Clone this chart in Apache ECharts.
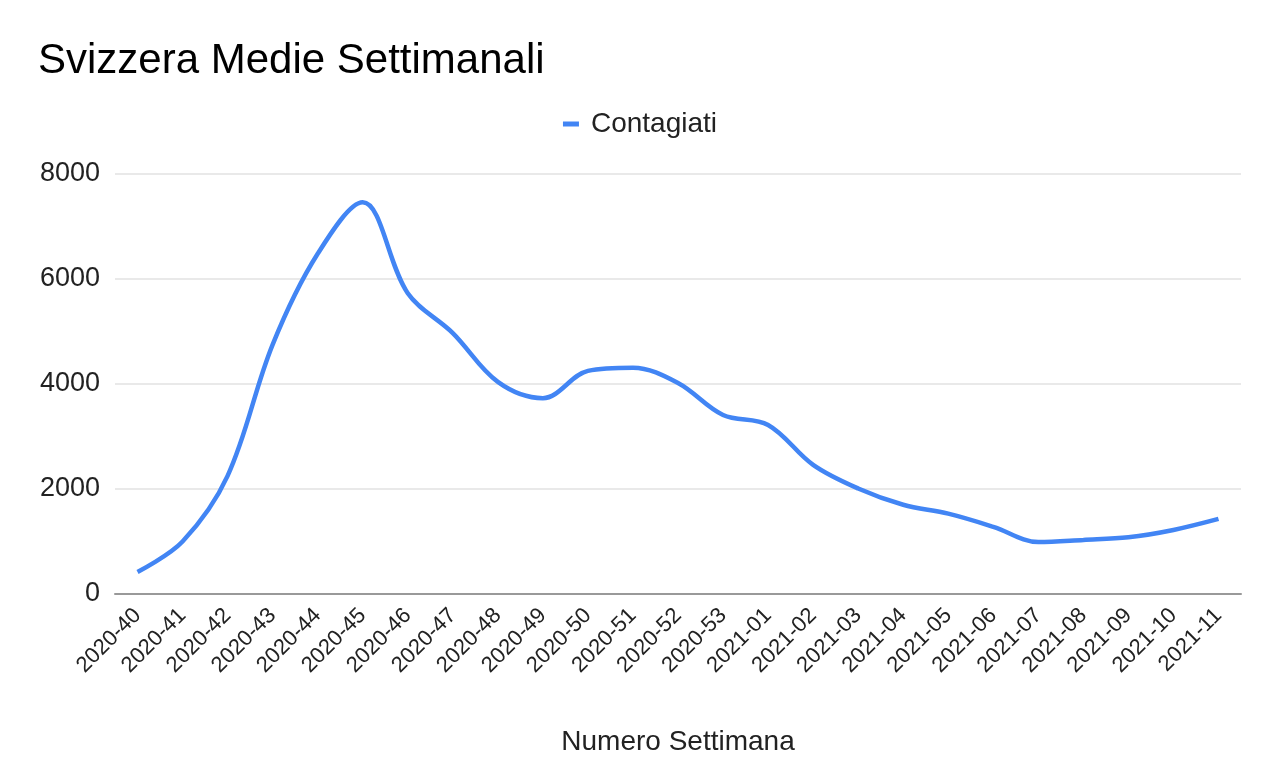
<!DOCTYPE html>
<html>
<head>
<meta charset="utf-8">
<script src="https://cdn.jsdelivr.net/npm/echarts@6/dist/echarts.min.js"></script>
<style>
html,body{margin:0;padding:0;background:#fff;}
#chart{width:1280px;height:784px;}
</style>
</head>
<body>
<div id="chart"></div>
<script>
const titleText = 'Svizzera Medie Settimanali';
const seriesName = 'Contagiati';
const xAxisName = 'Numero Settimana';
const weeks = ['2020-40','2020-41','2020-42','2020-43','2020-44','2020-45','2020-46','2020-47','2020-48','2020-49','2020-50','2020-51','2020-52','2020-53','2021-01','2021-02','2021-03','2021-04','2021-05','2021-06','2021-07','2021-08','2021-09','2021-10','2021-11'];
const contagiati = [420,1000,2250,4750,6480,7460,5730,4970,4040,3730,4250,4310,4020,3410,3220,2460,2010,1700,1530,1280,990,1030,1080,1220,1430];

const font = '"Liberation Sans", Arial, sans-serif';
const chart = echarts.init(document.getElementById('chart'));
chart.setOption({
  backgroundColor: '#ffffff',
  animation: false,
  title: {
    text: titleText,
    left: 33,
    top: 35,
    textStyle: {fontFamily: font, fontSize: 42, fontWeight: 'normal', color: '#000'}
  },
  legend: {
    data: [seriesName],
    left: 'center',
    top: 105,
    icon: 'rect',
    itemWidth: 16,
    itemHeight: 5,
    itemGap: 10,
    textStyle: {fontFamily: font, fontSize: 28, color: '#222', padding: [0, 0, 0, 7]}
  },
  grid: {left: 115, right: 39, top: 174, bottom: 190, containLabel: false},
  xAxis: {
    type: 'category',
    data: weeks,
    boundaryGap: true,
    name: xAxisName,
    nameLocation: 'middle',
    nameGap: 134,
    nameTextStyle: {fontFamily: font, fontSize: 28, color: '#222'},
    axisLine: {lineStyle: {color: '#999', width: 2}},
    axisTick: {show: false},
    axisLabel: {rotate: 45, interval: 0, margin: 18, fontFamily: font, fontSize: 22, color: '#222'}
  },
  yAxis: {
    type: 'value',
    min: 0,
    max: 8000,
    interval: 2000,
    axisLine: {show: false},
    axisTick: {show: false},
    axisLabel: {margin: 15, fontFamily: font, fontSize: 27, color: '#222', formatter: function (v) { return String(v); }},
    splitLine: {lineStyle: {color: '#e2e2e2', width: 1.5}}
  },
  series: [{
    name: seriesName,
    type: 'line',
    data: contagiati,
    smooth: 0.35,
    showSymbol: false,
    symbol: 'none',
    lineStyle: {color: '#4285F4', width: 4.5},
    itemStyle: {color: '#4285F4'}
  }]
});
</script>
</body>
</html>
